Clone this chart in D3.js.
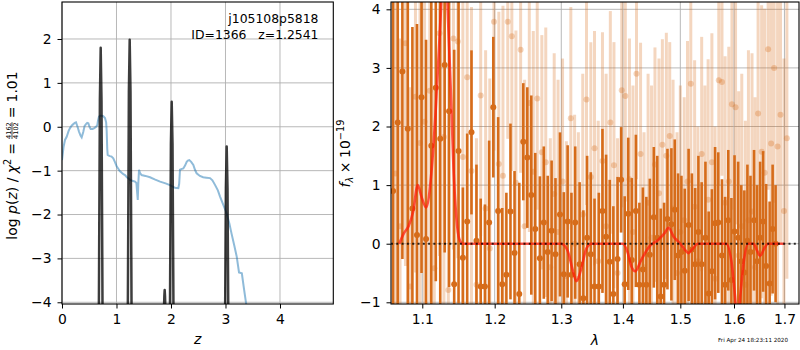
<!DOCTYPE html>
<html>
<head>
<meta charset="utf-8">
<script src="https://cdn.jsdelivr.net/npm/d3@7"></script>
<style>
  body { margin: 0; background: #fff; }
  svg { display: block; font-family: "DejaVu Sans", sans-serif; }
</style>
</head>
<body>
<svg id="chart" width="800" height="350"></svg>
<script>
// ---- left panel: log p(z) ----
const zTicks = [0, 1, 2, 3, 4];
const pzTicks = [-4, -3, -2, -1, 0, 1, 2];

// template-fit p(z) (light blue)
const pzZ = [0.0, 0.03, 0.055, 0.086, 0.12, 0.147, 0.18, 0.208, 0.235, 0.257, 0.285, 0.312, 0.34, 0.361, 0.39, 0.415, 0.44, 0.463, 0.483, 0.505, 0.526, 0.56, 0.593, 0.625, 0.648, 0.662, 0.679, 0.70, 0.728, 0.758, 0.789, 0.81, 0.82, 0.83, 0.838, 0.86, 0.881, 0.91, 0.941, 0.97, 1.003, 1.03, 1.06, 1.095, 1.125, 1.156, 1.19, 1.22, 1.248, 1.29, 1.34, 1.365, 1.39, 1.40, 1.413, 1.43, 1.46, 1.53, 1.615, 1.70, 1.80, 1.90, 1.98, 2.04, 2.073, 2.135, 2.15, 2.165, 2.20, 2.226, 2.26, 2.288, 2.31, 2.336, 2.37, 2.41, 2.44, 2.47, 2.53, 2.59, 2.65, 2.716, 2.76, 2.81, 2.86, 2.90, 2.96, 3.02, 3.07, 3.11, 3.16, 3.206, 3.248, 3.30, 3.34, 3.376, 3.42];
const pzLogp = [-0.76, -0.45, -0.30, -0.23, -0.10, -0.03, 0.03, 0.06, 0.09, 0.10, 0.00, -0.11, -0.20, -0.24, -0.12, 0.02, 0.06, 0.09, 0.08, 0.00, -0.05, -0.05, -0.03, 0.00, 0.04, 0.15, 0.23, 0.25, 0.25, 0.24, 0.20, 0.10, -0.10, -0.50, -0.64, -0.66, -0.67, -0.68, -0.72, -0.80, -0.90, -0.95, -1.01, -1.05, -1.08, -1.10, -1.15, -1.18, -1.21, -1.23, -1.25, -1.28, -1.67, -1.30, -0.98, -1.05, -1.10, -1.12, -1.15, -1.20, -1.25, -1.29, -1.33, -1.37, -1.39, -1.40, -1.30, -0.98, -0.96, -0.95, -0.88, -0.80, -0.77, -0.76, -0.80, -0.87, -0.98, -1.06, -1.12, -1.15, -1.16, -1.17, -1.22, -1.33, -1.45, -1.59, -1.78, -1.97, -2.20, -2.43, -2.70, -2.96, -3.32, -3.34, -3.70, -4.01, -4.50];

// line-fit p(z) (dark spikes)
const fitZ = [0.62, 0.675, 0.695, 0.71, 0.725, 0.745, 0.80, 1.15, 1.207, 1.227, 1.242, 1.257, 1.277, 1.33, 1.84, 1.868, 1.878, 1.884, 1.890, 1.900, 1.95, 1.978, 1.998, 2.013, 2.028, 2.048, 2.10, 2.95, 2.987, 3.007, 3.022, 3.037, 3.057, 3.12];
const fitLogp = [-8, -4.5, 0.6, 1.80, 0.6, -4.5, -8, -8, -4.4, 0.8, 1.98, 0.8, -4.4, -8, -8, -4.3, -3.85, -3.72, -3.85, -4.3, -8, -4.8, -0.4, 0.57, -0.4, -4.8, -8, -8, -5.5, -1.4, -0.45, -1.4, -5.5, -8];

// ---- right panel: spectrum ----
const waveTicks = [1.1, 1.2, 1.3, 1.4, 1.5, 1.6, 1.7];
const fluxTicks = [-1, 0, 1, 2, 3, 4];

// first orientation (dark)
const waveA = [
  1.062, 1.068, 1.074, 1.081, 1.087, 1.093, 1.099, 1.105, 1.112, 1.118, 1.124, 1.130, 1.136, 1.143, 1.149, 1.155,
  1.161, 1.167, 1.174, 1.180, 1.186, 1.192, 1.198, 1.205, 1.211, 1.217, 1.223, 1.229, 1.236, 1.242, 1.248, 1.254, 1.260, 1.267, 1.273, 1.279, 1.285, 1.291, 1.298,
  1.304, 1.310, 1.316, 1.322, 1.329, 1.335, 1.341, 1.347, 1.353, 1.360, 1.366, 1.372, 1.378, 1.384, 1.391, 1.397,
  1.403, 1.409, 1.415, 1.422, 1.428, 1.434, 1.440, 1.446, 1.453, 1.459, 1.465, 1.471, 1.477, 1.484, 1.490, 1.496,
  1.502, 1.508, 1.515, 1.521, 1.527, 1.533, 1.539, 1.546, 1.552, 1.558, 1.564, 1.570, 1.577, 1.583, 1.589, 1.595,
  1.601, 1.608, 1.614, 1.620, 1.626, 1.632, 1.639, 1.645, 1.651, 1.657, 1.663, 1.670, 1.676, 1.682];
const fluxA = [
  0.9, 2.07, 2.94, 1.96, 0.6, 0.15, 2.50, 0.08, 1.67, 2.66, 1.79, 3.05, 2.26, -0.69, 1.58, -0.24,
  0.38, 1.90, 0.05, -0.73, -0.73, 0.36, 2.33, 0.56, -0.69, -0.53, 0.55, -0.16, -0.86, 1.74, 1.47, 0.83, 0.25, -0.25, 0.36, -0.14, 0.22, -0.18, 0.50,
  -0.52, 0.38, -0.53, 0.36, -0.35, -0.93, 0.10, -0.18, -0.73, -0.73, 0.56, 0.12, -0.31, -0.86, -0.26, 1.09,
  -0.69, 0.51, -0.28, 0.56, -0.70, -0.44, -0.70, -0.19, 0.45, 0.10, -0.90, -0.70, 0.42, 0.33, 0.58, -0.20,
  -0.14, -0.46, 0.32, -0.10, -0.35, 0.20, -0.35, 0.10, -0.85, -0.47, 0.35, 0.36, -0.20, -0.70, 0.40, -0.62,
  0.21, 0.10, -0.30, -0.49, 0.05, -0.14, 0.40, -0.30, 0.10, 0.38, -0.38, -0.68, 0.25, 0.00];
const errA = [
  3.5, 3.4, 3.2, 3.8, 3.1, 3.6, 3.0, 3.4, 3.5, 3.3, 2.9, 3.2, 3.0, 4.0, 2.6, 1.2,
  1.5, 1.4, 1.3, 1.5, 1.4, 1.4, 1.2, 1.6, 1.3, 1.4, 1.5, 1.4, 1.9, 1.0, 1.2, 1.7, 1.3, 1.4, 1.3, 1.3, 1.2, 1.3, 1.4,
  1.4, 1.3, 1.4, 1.3, 1.4, 1.5, 1.4, 1.4, 1.5, 1.6, 1.4, 1.4, 1.4, 1.5, 1.4, 0.9,
  1.5, 1.3, 1.4, 1.3, 1.4, 1.4, 1.5, 1.3, 1.2, 1.4, 1.5, 1.4, 1.2, 1.3, 1.2, 1.4,
  1.3, 1.4, 1.3, 1.3, 1.3, 1.3, 1.4, 1.3, 1.4, 1.4, 1.3, 1.2, 1.3, 1.5, 1.2, 1.4,
  1.3, 1.3, 1.3, 1.4, 1.3, 1.3, 1.2, 1.3, 1.3, 1.2, 1.4, 1.4, 1.1, 1.0];

// second orientation (light)
const waveB = [
  1.065, 1.071, 1.078, 1.084, 1.091, 1.097, 1.103, 1.110, 1.116, 1.123, 1.129, 1.135, 1.142, 1.148,
  1.155, 1.161, 1.167, 1.174, 1.180, 1.187, 1.193, 1.199, 1.206, 1.212, 1.219, 1.225, 1.231, 1.238, 1.244, 1.251, 1.257, 1.263, 1.270, 1.276, 1.283, 1.289, 1.295,
  1.302, 1.308, 1.315, 1.321, 1.327, 1.334, 1.340, 1.347, 1.353, 1.359, 1.366, 1.372, 1.379, 1.385, 1.391, 1.398,
  1.404, 1.411, 1.417, 1.423, 1.430, 1.436, 1.443, 1.449, 1.455, 1.462, 1.468, 1.475, 1.481, 1.487, 1.494,
  1.500, 1.507, 1.513, 1.519, 1.526, 1.532, 1.539, 1.545, 1.551, 1.558, 1.564, 1.571, 1.577, 1.583, 1.590, 1.596,
  1.603, 1.609, 1.615, 1.622, 1.628, 1.635, 1.641, 1.647, 1.654, 1.660, 1.667, 1.673, 1.679, 1.686, 1.692, 1.699, 1.705];
const fluxB = [
  1.2, 0.3, 3.42, -0.73, 2.51, 1.72, 2.08, 2.61, -0.42, 3.59, 1.82, -0.79, 3.50, 3.45,
  1.48, 2.84, 1.24, -0.70, 2.53, 0.60, -0.08, 3.79, 1.36, 1.16, 3.79, 3.54, 1.04, 3.31, 0.30, 2.40, 1.23, 2.48, 1.56, 1.39, -0.40, 0.85, 0.20,
  1.06, -0.55, 2.14, 0.00, -0.60, 0.50, 2.46, 1.14, 1.63, -0.30, 1.41, 0.30, 2.07, 1.34, -0.50, 2.62,
  2.52, 1.10, 0.20, 2.90, 1.53, -0.40, 0.70, 0.10, 1.35, 0.86, 1.69, 1.50, 1.84, 0.60, -0.50,
  0.20, 0.40, 1.06, 2.73, 0.63, -0.30, 1.53, 0.10, 0.75, 1.39, -0.60, 2.79, 2.76, 0.70, 1.06, 2.38,
  2.33, -0.20, 0.30, -0.70, 0.40, 0.55, -0.40, 2.22, 1.57, 1.21, 3.32, 1.71, 3.00, 1.66, 2.20, 0.56, 1.80];
const errB = [
  3.6, 3.2, 3.8, 3.4, 3.0, 3.5, 3.3, 3.6, 3.1, 3.8, 3.4, 3.0, 3.6, 3.7,
  2.9, 2.6, 2.8, 2.5, 2.4, 2.7, 2.9, 2.2, 2.6, 2.9, 2.0, 2.3, 2.6, 2.1, 2.5, 2.2, 2.4, 1.9, 2.0, 2.3, 2.2, 2.4, 2.6,
  2.1, 2.3, 1.9, 2.2, 2.5, 2.4, 1.8, 2.3, 2.0, 2.4, 2.2, 2.6, 1.9, 2.1, 2.3, 2.0,
  1.8, 2.4, 2.5, 1.8, 1.9, 2.3, 2.2, 2.6, 2.0, 2.3, 1.8, 2.1, 1.6, 2.2, 2.4,
  2.5, 2.1, 2.4, 1.7, 2.5, 2.3, 2.0, 2.6, 2.4, 2.2, 2.6, 1.8, 1.6, 2.5, 2.3, 1.8,
  2.0, 2.8, 2.6, 2.8, 2.9, 2.7, 2.9, 2.2, 2.5, 2.8, 2.4, 2.6, 2.3, 2.7, 2.2, 2.6, 2.4];

// best-fit model
const modelWave = [1.070, 1.076, 1.082, 1.088, 1.094, 1.099, 1.105, 1.112, 1.118, 1.123, 1.128, 1.131, 1.135, 1.139, 1.142, 1.146, 1.150, 1.155, 1.300, 1.310, 1.318, 1.324, 1.331, 1.340, 1.348, 1.400, 1.408, 1.414, 1.421, 1.430, 1.445, 1.460, 1.472, 1.479, 1.488, 1.500, 1.508, 1.515, 1.523, 1.532, 1.585, 1.595, 1.602, 1.607, 1.612, 1.619, 1.627, 1.638, 1.645, 1.651, 1.658, 1.667, 1.700];
const modelFlux = [0.0, 0.18, 0.30, 0.55, 1.00, 0.80, 0.62, 1.20, 2.30, 3.50, 4.60, 4.70, 3.70, 2.40, 1.30, 0.45, 0.08, 0.0, 0.0, -0.12, -0.45, -0.64, -0.45, -0.08, 0.0, 0.0, -0.15, -0.38, -0.47, -0.30, -0.05, 0.06, 0.18, 0.27, 0.12, 0.0, -0.10, -0.16, -0.08, 0.0, 0.0, -0.30, -0.90, -1.40, -0.90, -0.30, 0.0, 0.0, -0.12, -0.21, -0.10, 0.0, 0.0];

const svg = d3.select("#chart");
const gridColor = "#b0b0b0";
const orange = "#d66c1a";

const L = { x0: 62, x1: 333.3, y0: 2, y1: 304 };
const R = { x0: 391, x1: 799, y0: 2, y1: 304 };

const xz = d3.scaleLinear().domain([0, 4.978]).range([L.x0, L.x1]);
const ypz = d3.scaleLinear().domain([-4.039, 2.843]).range([L.y1, L.y0]);
const xw = d3.scaleLog().domain([1.0594, 1.730]).range([R.x0, R.x1]);
const yf = d3.scaleLinear().domain([-1.029, 4.125]).range([R.y1, R.y0]);

function clip(id, box) {
  svg.append("clipPath").attr("id", id).append("rect")
    .attr("x", box.x0).attr("y", box.y0)
    .attr("width", box.x1 - box.x0).attr("height", box.y1 - box.y0);
}
clip("clipL", L);
clip("clipR", R);

function grid(box, xs, ys, xScale, yScale) {
  const g = svg.append("g").attr("stroke", gridColor).attr("stroke-width", 0.9);
  xs.forEach(v => g.append("line").attr("x1", xScale(v)).attr("x2", xScale(v)).attr("y1", box.y0).attr("y2", box.y1));
  ys.forEach(v => g.append("line").attr("x1", box.x0).attr("x2", box.x1).attr("y1", yScale(v)).attr("y2", yScale(v)));
}
grid(L, zTicks, pzTicks, xz, ypz);
grid(R, waveTicks, fluxTicks, xw, yf);

// left panel curves
const left = svg.append("g").attr("clip-path", "url(#clipL)");
left.append("path")
  .datum(pzZ.map((z, i) => [z, pzLogp[i]]))
  .attr("fill", "none").attr("stroke", "#1f77b4").attr("stroke-opacity", 0.5).attr("stroke-width", 2)
  .attr("d", d3.line().x(d => xz(d[0])).y(d => ypz(d[1])));
left.append("path")
  .datum(fitZ.map((z, i) => [z, fitLogp[i]]))
  .attr("fill", "none").attr("stroke", "#000").attr("stroke-opacity", 0.76).attr("stroke-width", 2.5)
  .attr("stroke-linejoin", "round")
  .attr("d", d3.line().x(d => xz(d[0])).y(d => ypz(d[1])));

// right panel error bars
const right = svg.append("g").attr("clip-path", "url(#clipR)");
function errorbars(wave, flux, err, barOpacity, dotOpacity, width) {
  const g = right.append("g");
  wave.forEach((w, i) => {
    g.append("line")
      .attr("x1", xw(w)).attr("x2", xw(w))
      .attr("y1", yf(flux[i] - err[i])).attr("y2", yf(flux[i] + err[i]))
      .attr("stroke", orange).attr("stroke-opacity", barOpacity).attr("stroke-width", width);
    g.append("circle")
      .attr("cx", xw(w)).attr("cy", yf(flux[i])).attr("r", 3)
      .attr("fill", orange).attr("fill-opacity", dotOpacity);
  });
}
errorbars(waveB, fluxB, errB, 0.28, 0.3, 3);
errorbars(waveA, fluxA, errA, 1, 1, 2.6);

right.append("path")
  .datum(modelWave.map((w, i) => [w, modelFlux[i]]))
  .attr("fill", "none").attr("stroke", "#ff1a0a").attr("stroke-opacity", 0.72).attr("stroke-width", 2.6)
  .attr("d", d3.line().curve(d3.curveMonotoneX).x(d => xw(d[0])).y(d => yf(d[1])));

right.append("line")
  .attr("x1", R.x0).attr("x2", R.x1).attr("y1", yf(0)).attr("y2", yf(0))
  .attr("stroke", "#000").attr("stroke-opacity", 0.8).attr("stroke-width", 2)
  .attr("stroke-dasharray", "2,3.3");

// axes
function styleAxis(g) {
  g.select(".domain").remove();
  g.selectAll(".tick line").attr("stroke", "#000").attr("stroke-width", 1);
  g.selectAll(".tick text").attr("fill", "#000").attr("font-size", 13.9)
    .attr("font-family", '"DejaVu Sans", sans-serif');
}
function bottomAxis(scale, ticks, fmt, y, base) {
  svg.append("g").attr("transform", `translate(0,${y})`)
    .call(d3.axisBottom(scale).tickValues(ticks).tickSize(4.5).tickFormat(fmt))
    .call(styleAxis)
    .call(g => g.selectAll(".tick text").attr("dy", null).attr("y", base));
}
function leftAxis(scale, ticks, x) {
  svg.append("g").attr("transform", `translate(${x},0)`)
    .call(d3.axisLeft(scale).tickValues(ticks).tickSize(4.5).tickPadding(6).tickFormat(d3.format("d")))
    .call(styleAxis);
}
bottomAxis(xz, zTicks, d3.format("d"), L.y1, 19.5);
leftAxis(ypz, pzTicks, L.x0);
bottomAxis(xw, waveTicks, d3.format(".1f"), R.y1, 19.5);
leftAxis(yf, fluxTicks, R.x0);

[L, R].forEach(b => svg.append("rect")
  .attr("x", b.x0).attr("y", b.y0).attr("width", b.x1 - b.x0).attr("height", b.y1 - b.y0)
  .attr("fill", "none").attr("stroke", "#000").attr("stroke-width", 1.1));

// labels
svg.append("text").attr("x", xz(2.49)).attr("y", 344).attr("text-anchor", "middle")
  .attr("font-size", 14).attr("font-style", "italic").text("z");
svg.append("text").attr("x", (R.x0 + R.x1) / 2).attr("y", 345).attr("text-anchor", "middle")
  .attr("font-size", 14).attr("font-style", "italic").text("λ");

svg.append("text").attr("x", 318.5).attr("y", 23).attr("text-anchor", "end")
  .attr("font-size", 12.4).text("j105108p5818");
svg.append("text").attr("x", 318.5).attr("y", 38.5).attr("text-anchor", "end")
  .attr("font-size", 12.4).attr("xml:space", "preserve").style("white-space", "pre")
  .text("ID=1366   z=1.2541");

svg.append("text").attr("x", 788).attr("y", 342).attr("text-anchor", "end")
  .attr("font-size", 5.6).text("Fri Apr 24 18:23:11 2020");

// rotated math labels, built piece by piece
function mathLabel(bx, cy, parts) {
  const g = svg.append("g");
  let x = 0;
  parts.forEach(p => {
    if (p.frac) {
      const num = g.append("text").attr("font-size", p.size).attr("y", -5.8).attr("text-anchor", "middle").text(p.frac[0]);
      const den = g.append("text").attr("font-size", p.size).attr("y", 1.0).attr("text-anchor", "middle").text(p.frac[1]);
      const w = Math.max(num.node().getComputedTextLength(), den.node().getComputedTextLength());
      num.attr("x", x + w / 2);
      den.attr("x", x + w / 2);
      g.append("line").attr("x1", x).attr("x2", x + w).attr("y1", -4.7).attr("y2", -4.7)
        .attr("stroke", "#000").attr("stroke-width", 0.7);
      x += w + (p.gap || 0);
    } else {
      const t = g.append("text").attr("x", x).attr("y", p.dy || 0).attr("font-size", p.size || 14).text(p.t);
      if (p.it) t.attr("font-style", "italic");
      x += t.node().getComputedTextLength() + (p.gap || 0);
    }
  });
  g.attr("transform", `translate(${bx},${cy + x / 2}) rotate(-90)`);
}
mathLabel(16.7, 155.5, [
  { t: "log", gap: 4.4 }, { t: "p", it: true }, { t: "(" }, { t: "z", it: true }, { t: ")", gap: 4.4 },
  { t: "/", gap: 4.4 }, { t: "χ", it: true }, { t: "2", size: 9.8, dy: -6, gap: 4 }, { t: "=", gap: 4 },
  { frac: ["4162", "4102"], size: 6.6, gap: 4 }, { t: "=", gap: 4 }, { t: "1.01" }
]);
mathLabel(350, 153.5, [
  { t: "f", it: true }, { t: "λ", it: true, size: 9.8, dy: 3, gap: 3.5 }, { t: "×", gap: 3.5 },
  { t: "10" }, { t: "−19", size: 9.8, dy: -6 }
]);
</script>
</body>
</html>
